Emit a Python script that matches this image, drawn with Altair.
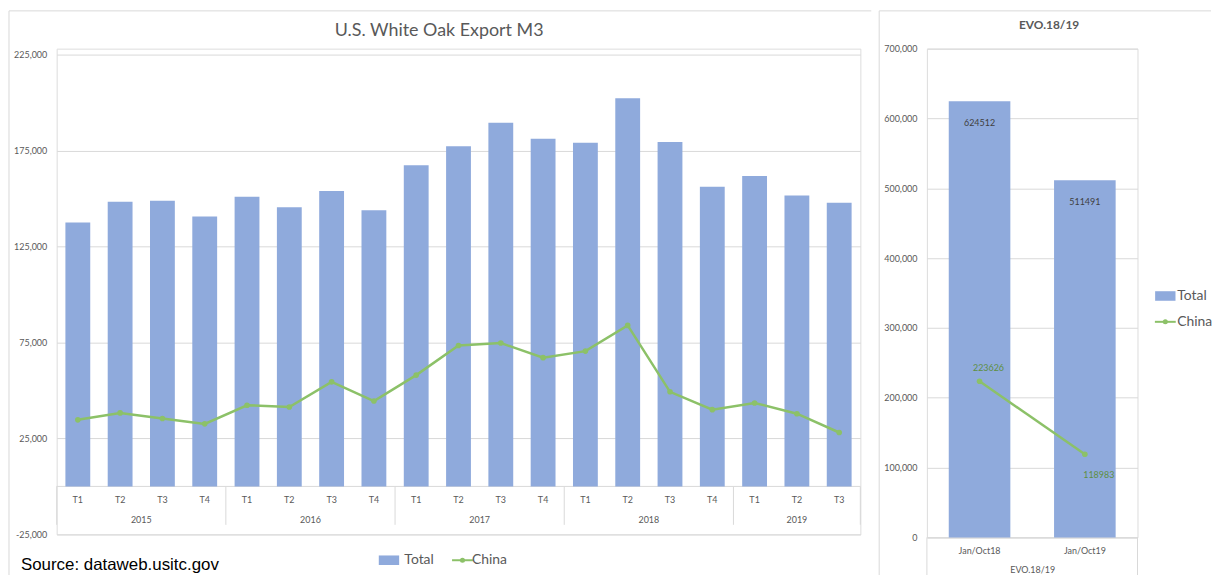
import altair as alt
import pandas as pd

# ---------------- data ----------------
years = ["2015", "2016", "2017", "2018", "2019"]
quarters_per_year = [4, 4, 4, 4, 3]
quarter_names = ["T1", "T2", "T3", "T4"]
total_m3 = [137500, 148300, 148900, 140700,
            150900, 145500, 153900, 143900,
            167400, 177300, 189500, 181100,
            179100, 202200, 179400, 156100,
            161800, 151600, 147800]
china_m3 = [34700, 38300, 35400, 32600,
            42300, 41400, 54500, 44500,
            58000, 73400, 74700, 67100,
            70500, 83900, 49300, 40000,
            43500, 37900, 28100]

evo_periods = ["Jan/Oct18", "Jan/Oct19"]
evo_total = [624512, 511491]
evo_china = [223626, 118983]

series_names = ["Total", "China"]
source_text = "Source: dataweb.usitc.gov"
left_title = "U.S. White Oak Export M3"
right_title = "EVO.18/19"

# ---------------- styles ----------------
BLUE = "#8FAADC"
GREEN = "#8CC168"
GREEN_TXT = "#5E8F42"
GRAY = "#595959"
GRID = "#D9D9D9"
FONT = "Lato"

# ---------------- tables ----------------
rows = []
i = 0
for y, n in zip(years, quarters_per_year):
    for q in quarter_names[:n]:
        rows.append({"idx": i, "year": y, "quarter": q,
                     "total": total_m3[i], "china": china_m3[i]})
        i += 1
df = pd.DataFrame(rows)
n_bars = len(df)

year_df = df.groupby("year", as_index=False)["idx"].mean()
bounds = [-0.5]
for n in quarters_per_year:
    bounds.append(bounds[-1] + n)
bound_df = pd.DataFrame({"idx": bounds})
edge_df = pd.DataFrame({"idx": [bounds[0]], "idx2": [bounds[-1]]})

dfr = pd.DataFrame({"period": evo_periods, "total": evo_total, "china": evo_china})

RECT_PATH = "M-1.45,-0.68H1.45V0.68H-1.45Z"
ONE = pd.DataFrame({"t": [""]})


def text_layer(txt, x, y, size, color, weight="normal", font=FONT, align="center"):
    return alt.Chart(pd.DataFrame({"t": [txt]})).mark_text(
        align=align, baseline="middle", fontSize=size, font=font, color=color,
        fontWeight=weight).encode(text="t:N", x=alt.value(x), y=alt.value(y))


def legend_layers(sx, sy, tx, cx, cy, ctx):
    two = alt.Chart(pd.DataFrame({"t": [series_names[1]]}))
    return [
        alt.Chart(ONE).mark_point(shape=RECT_PATH, filled=True, size=200, opacity=1, color=BLUE).encode(
            x=alt.value(sx), y=alt.value(sy)),
        text_layer(series_names[0], tx, sy, 14, GRAY, align="left"),
        two.mark_rule(color=GREEN, strokeWidth=2).encode(
            x=alt.value(cx - 10.5), x2=alt.value(cx + 10.5), y=alt.value(cy)),
        two.mark_circle(size=26, opacity=1, color=GREEN).encode(x=alt.value(cx), y=alt.value(cy)),
        text_layer(series_names[1], ctx, cy, 14, GRAY, align="left"),
    ]


def frame_rule(x, x2, y, y2):
    enc = {"x": alt.value(x), "y": alt.value(y)}
    if x2 is not None:
        enc["x2"] = alt.value(x2)
    if y2 is not None:
        enc["y2"] = alt.value(y2)
    return alt.Chart(ONE).mark_rule(color=GRID, strokeWidth=1).encode(**enc)


W_L, H_L = 809, 489
W_R, H_R = 212, 492

# ---------------- left panel ----------------
xL_scale = alt.Scale(domain=[-0.5, n_bars - 0.5], nice=False, zero=False, padding=0)
yL_scale = alt.Scale(domain=[-25000, 228106], nice=False, zero=False, padding=0)
yL_axis = alt.Axis(values=[-25000, 25000, 75000, 125000, 175000, 225000],
                   labelExpr="replace(format(datum.value, ',d'), '\u2212', '-')",
                   grid=True, gridColor=GRID, domain=False, ticks=False,
                   labelFontSize=9, labelColor=GRAY, labelFont=FONT,
                   labelPadding=10, title=None)


def XL(field="idx"):
    return alt.X(f"{field}:Q", scale=xL_scale, axis=None)


def YL(field):
    return alt.Y(f"{field}:Q", scale=yL_scale, axis=yL_axis)


def YLd(v):
    return alt.YDatum(v, type="quantitative", scale=yL_scale, axis=yL_axis)


base_l = alt.Chart(df)

bars_l = base_l.mark_bar(size=25, color=BLUE).encode(x=XL(), y=YL("total"))
line_l = base_l.mark_line(strokeWidth=2.5, color=GREEN).encode(x=XL(), y=YL("china"))
pts_l = base_l.mark_circle(size=32, opacity=1, color=GREEN).encode(x=XL(), y=YL("china"))

baseline_l = alt.Chart(edge_df).mark_rule(color=GRID, strokeWidth=1).encode(
    x=XL(), x2="idx2:Q", y=YLd(0))
seps_l = alt.Chart(bound_df).mark_rule(color=GRID, strokeWidth=1).encode(
    x=XL(), y=YLd(0), y2=alt.Y2Datum(-20000))
qlab_l = base_l.mark_text(fontSize=9, color=GRAY, font=FONT).encode(
    x=XL(), y=YLd(-7000), text="quarter:N")
ylab_l = alt.Chart(year_df).mark_text(fontSize=9, color=GRAY, font=FONT).encode(
    x=XL(), y=YLd(-17600), text="year:N")

left = alt.layer(
    frame_rule(-48, W_L + 11, -38, None),
    frame_rule(-48, None, -38, 534),
    seps_l, baseline_l, bars_l, line_l, pts_l, qlab_l, ylab_l,
    text_layer(left_title, 385, -18, 18, GRAY),
    text_layer(source_text, -36, 520, 17, "#000000", font="Liberation Sans", align="left"),
    *legend_layers(334.5, 515, 350, 408.5, 515, 418)).properties(width=W_L, height=H_L)

# ---------------- right panel ----------------
xR_scale = alt.Scale(paddingInner=0, paddingOuter=0)
xR_axis = alt.Axis(title=right_title, titleFontSize=9, titleFontWeight="normal",
                   titleColor=GRAY, titleFont=FONT, titlePadding=10,
                   labelFontSize=9, labelColor=GRAY, labelFont=FONT, labelAngle=0,
                   labelPadding=9, ticks=False, domainColor=GRID, grid=False)
yR_scale = alt.Scale(domain=[0, 700000], nice=False, padding=0)
yR_axis = alt.Axis(values=list(range(0, 700001, 100000)), format=",d",
                   grid=True, gridColor=GRID, domain=False, ticks=False,
                   labelFontSize=9, labelColor=GRAY, labelFont=FONT,
                   labelPadding=10, title=None)


def XR():
    return alt.X("period:N", sort=evo_periods, scale=xR_scale, axis=xR_axis)


def YR(field):
    return alt.Y(f"{field}:Q", scale=yR_scale, axis=yR_axis)


base_r = alt.Chart(dfr)
bars_r = base_r.mark_bar(size=62, color=BLUE).encode(x=XR(), y=YR("total"))
tlab_r = base_r.mark_text(fontSize=9, color="#404040", font=FONT, dy=22).encode(
    x=XR(), y=YR("total"), text="total:Q")
line_r = base_r.mark_line(strokeWidth=2.5, color=GREEN).encode(x=XR(), y=YR("china"))
pts_r = base_r.mark_circle(size=32, opacity=1, color=GREEN).encode(x=XR(), y=YR("china"))
clab1 = base_r.transform_filter(alt.datum.period == evo_periods[0]).mark_text(
    fontSize=9, color=GREEN_TXT, font=FONT, dx=9, dy=-13).encode(x=XR(), y=YR("china"), text="china:Q")
clab2 = base_r.transform_filter(alt.datum.period == evo_periods[1]).mark_text(
    fontSize=9, color=GREEN_TXT, font=FONT, dx=14, dy=21).encode(x=XR(), y=YR("china"), text="china:Q")

right = alt.layer(
    frame_rule(-48, 286, -38, None),
    frame_rule(-48, None, -38, 534),
    frame_rule(0, None, H_R, H_R + 40),
    frame_rule(W_R, None, H_R, H_R + 40),
    bars_r, tlab_r, line_r, pts_r, clab1, clab2,
    text_layer(right_title, 123, -24, 12, GRAY, weight="bold"),
    *legend_layers(240, 249, 252, 240, 275, 252)).properties(width=W_R, height=H_R)

chart = alt.hconcat(left, right, spacing=6).resolve_scale(
    x="independent", y="independent"
).properties(
    padding={"left": 0, "top": 0, "right": 0, "bottom": 0}
).configure_view(strokeWidth=0).configure(background="white")

chart.save("out.html", embed_options={"renderer": "svg", "actions": False})
